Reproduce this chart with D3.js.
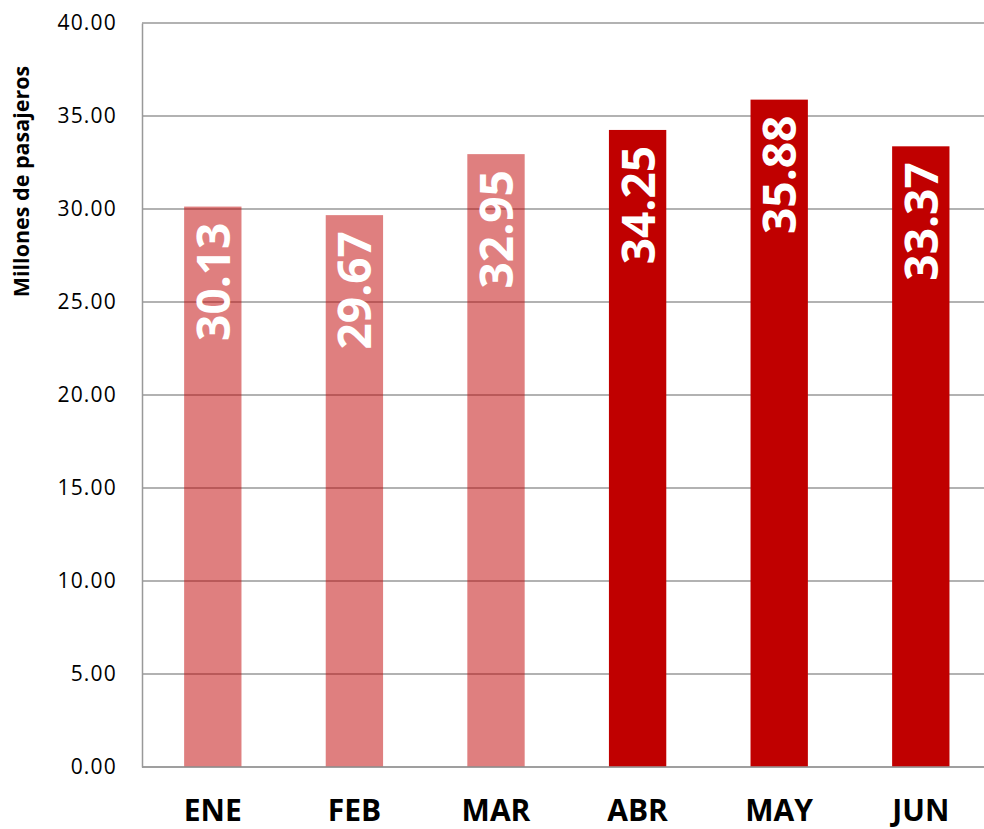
<!DOCTYPE html>
<html>
<head>
<meta charset="utf-8">
<script src="https://cdn.jsdelivr.net/npm/d3@7/dist/d3.min.js"></script>
<style>
  html, body { margin: 0; padding: 0; background: #fff; overflow: hidden; }
  svg { display: block; }
</style>
</head>
<body>
<svg class="chart-svg"></svg>
<script>
// chart values
const months = ["ENE", "FEB", "MAR", "ABR", "MAY", "JUN"];
const passengers = [30.13, 29.67, 32.95, 34.25, 35.88, 33.37];
const lightMonths = ["ENE", "FEB", "MAR"];
const yTicks = [0, 5, 10, 15, 20, 25, 30, 35, 40];
const yTitle = "Millones de pasajeros";

function drawChart() {
  const svgSpec = {
    width: 984,
    height: 829,
    margin: { top: 23, left: 142, bottom: 62 },
    plotRight: 991.6
  };

  const data = months.map((m, i) => ({ month: m, value: passengers[i] }));

  const svg = d3.select(".chart-svg")
    .attr("width", svgSpec.width)
    .attr("height", svgSpec.height);

  const x = d3.scaleBand()
    .domain(months)
    .range([svgSpec.margin.left, svgSpec.plotRight])
    .padding(0);

  const y = d3.scaleLinear()
    .domain([0, 40])
    .range([svgSpec.height - svgSpec.margin.bottom, svgSpec.margin.top]);

  // grid lines
  svg.append("g")
    .selectAll("line")
    .data(yTicks)
    .join("line")
    .attr("x1", svgSpec.margin.left)
    .attr("x2", svgSpec.plotRight)
    .attr("y1", d => y(d))
    .attr("y2", d => y(d))
    .attr("stroke", "#999")
    .attr("stroke-width", 1.5);

  // y axis
  const yAxis = svg.append("g")
    .attr("transform", `translate(${svgSpec.margin.left},0)`)
    .call(d3.axisLeft(y).tickValues(yTicks).tickFormat(d3.format(".2f")).tickSize(0).tickPadding(25));
  yAxis.select(".domain").attr("stroke", "#999").attr("stroke-width", 1.5);
  yAxis.selectAll("text")
    .attr("font-family", "'Open Sans', sans-serif")
    .attr("font-size", 21)
    .attr("letter-spacing", 1.2)
    .attr("fill", "#000");

  // y title
  svg.append("text")
    .attr("transform", `translate(29,${(63 + 300) / 2}) rotate(-90)`)
    .attr("text-anchor", "middle")
    .attr("font-family", "'Open Sans', sans-serif")
    .attr("font-weight", "bold")
    .attr("font-size", 21.5)
    .text(yTitle);

  // bars
  const barW = x.bandwidth() * 0.405;
  svg.append("g")
    .selectAll("rect")
    .data(data)
    .join("rect")
    .attr("x", d => x(d.month) + (x.bandwidth() - barW) / 2)
    .attr("y", d => y(d.value))
    .attr("width", barW)
    .attr("height", d => y(0) - y(d.value))
    .attr("fill", "#C00000")
    .attr("fill-opacity", d => lightMonths.includes(d.month) ? 0.5 : 1);

  // bar value labels
  svg.append("g")
    .selectAll("text")
    .data(data)
    .join("text")
    .attr("transform", d => `translate(${x(d.month) + x.bandwidth() / 2 + 17},${y(d.value) + 16}) rotate(-90)`)
    .attr("text-anchor", "end")
    .attr("font-family", "'Open Sans', sans-serif")
    .attr("font-weight", "bold")
    .attr("font-size", 46)
    .attr("fill", "#fff")
    .text(d => d.value.toFixed(2));

  // x axis line
  svg.append("line")
    .attr("x1", svgSpec.margin.left)
    .attr("x2", svgSpec.plotRight)
    .attr("y1", y(0))
    .attr("y2", y(0))
    .attr("stroke", "#999")
    .attr("stroke-width", 1.5);

  // category labels
  svg.append("g")
    .selectAll("text")
    .data(months)
    .join("text")
    .attr("x", d => x(d) + x.bandwidth() / 2)
    .attr("y", 821)
    .attr("text-anchor", "middle")
    .attr("font-family", "'Open Sans', sans-serif")
    .attr("font-weight", "bold")
    .attr("font-size", 30)
    .text(d => d);
}

drawChart();
</script>
</body>
</html>
